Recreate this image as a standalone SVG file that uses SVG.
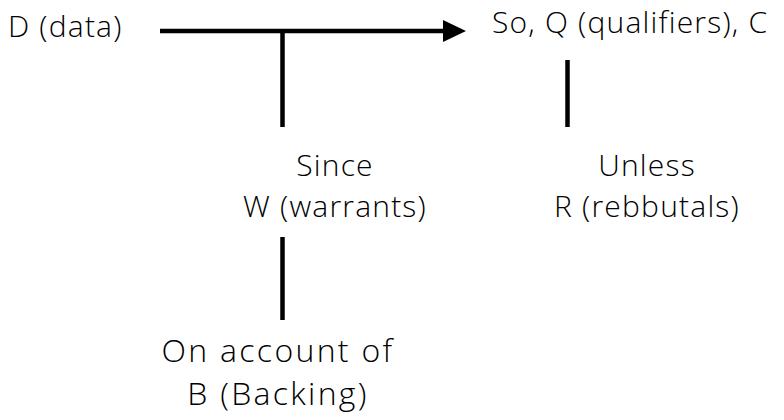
<svg xmlns="http://www.w3.org/2000/svg" width="784" height="420" viewBox="0 0 784 420">
<style>
text{font-family:"Open Sans","DejaVu Sans",sans-serif;font-weight:300;fill:#000;font-size:30px;letter-spacing:1.2px}
.c{text-anchor:middle}
.big{font-size:32px;letter-spacing:2.3px}
.ln{stroke:#000;stroke-width:4.5;fill:none}
</style>
<defs>
<marker id="arr" markerUnits="userSpaceOnUse" markerWidth="24" markerHeight="24" refX="0" refY="11" orient="auto" viewBox="0 0 24 24">
<path d="M0,0 L23,11 L0,22 Z" fill="#000"/>
</marker>
</defs>
<rect width="784" height="420" fill="#fff"/>
<g id="connectors">
<line class="ln" x1="160" y1="31" x2="443" y2="31" marker-end="url(#arr)"/>
<line class="ln" x1="282.5" y1="31" x2="282.5" y2="127"/>
<line class="ln" x1="567.5" y1="60" x2="567.5" y2="127"/>
<line class="ln" x1="282.5" y1="237" x2="282.5" y2="320"/>
</g>
<g id="data"><text x="8" y="37">D (data)</text></g>
<g id="claim"><text x="492" y="33">So, Q (qualifiers), C</text></g>
<g id="warrant"><text class="c" x="335" y="176">Since</text><text class="c" x="335" y="217">W (warrants)</text></g>
<g id="rebuttal"><text class="c" x="647" y="176">Unless</text><text class="c" x="647" y="217">R (rebbutals)</text></g>
<g id="backing"><text class="c big" x="278" y="362">On account of</text><text class="c big" x="278" y="405">B (Backing)</text></g>
</svg>
